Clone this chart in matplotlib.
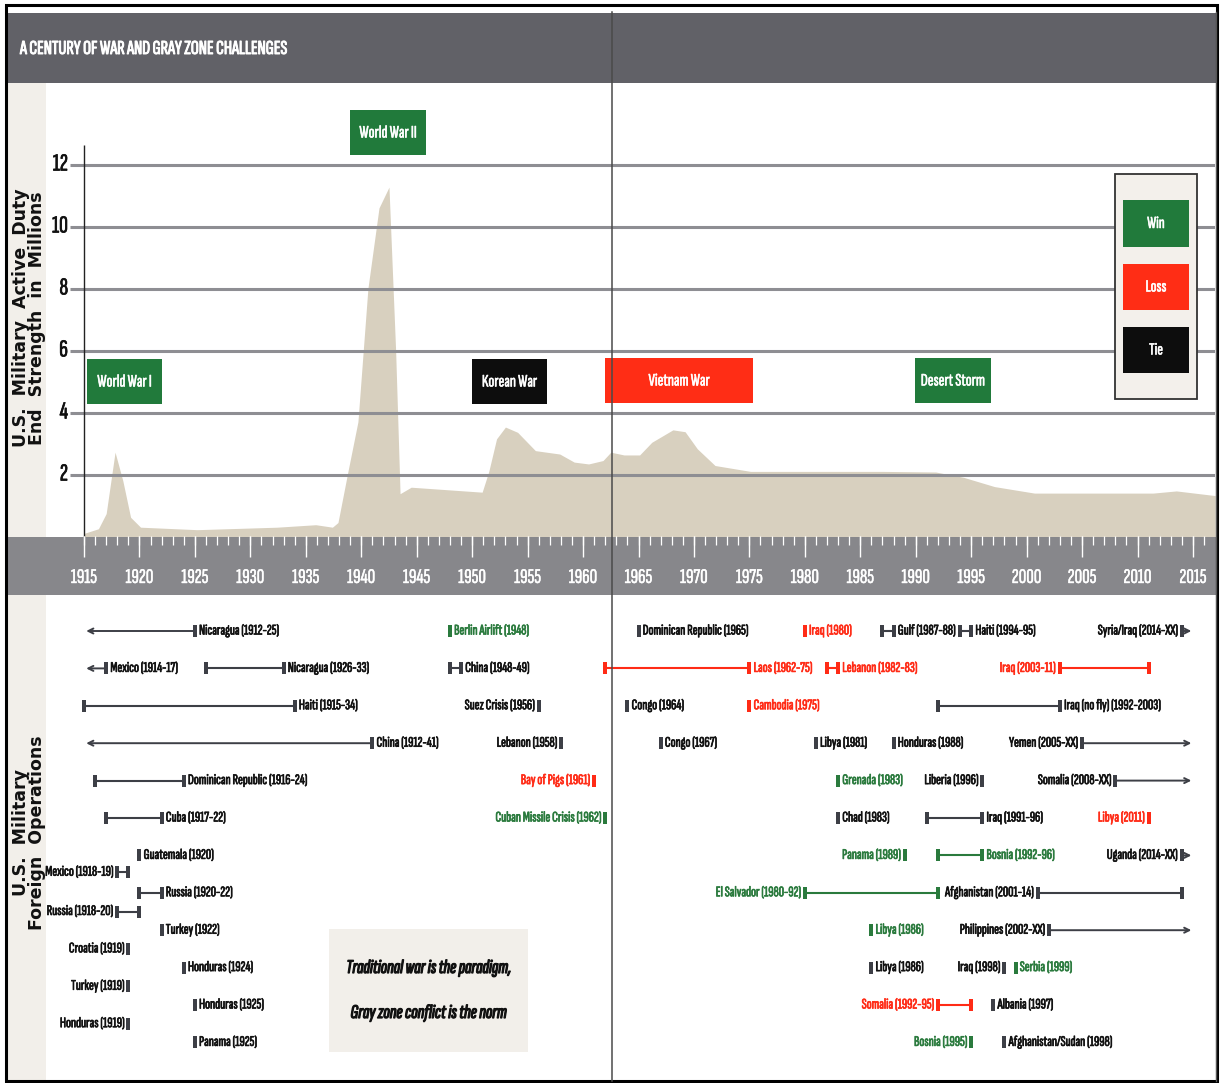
import matplotlib
matplotlib.use("Agg")
import matplotlib.pyplot as plt
from matplotlib.patches import Rectangle
from matplotlib import font_manager as fm
from matplotlib import patheffects as pe

# ---------------------------------------------------------------- data
strength_years = [1915.0, 1916.3, 1917.0, 1917.8, 1918.5, 1919.2, 1920.1, 1925.2, 1928.8,
                  1932.4, 1935.9, 1937.4, 1937.9, 1938.8, 1939.7, 1940.6, 1941.6, 1942.5,
                  1943.1, 1943.5, 1944.5, 1950.9, 1951.5, 1952.2, 1953.0, 1954.1, 1955.7,
                  1956.7, 1957.9, 1959.2, 1960.5, 1961.8, 1962.5, 1963.7, 1965.1, 1966.2,
                  1968.1, 1969.2, 1970.3, 1971.9, 1975.1, 1987.0, 1991.8, 1994.3, 1997.1,
                  2000.7, 2011.4, 2013.5, 2017.0]
strength_millions = [0.10, 0.25, 0.74, 2.72, 1.80, 0.62, 0.30, 0.22, 0.26,
                     0.30, 0.38, 0.30, 0.45, 2.10, 3.70, 8.00, 10.60, 11.27,
                     6.00, 1.38, 1.59, 1.43, 2.10, 3.15, 3.53, 3.36, 2.77,
                     2.72, 2.66, 2.40, 2.34, 2.45, 2.72, 2.63, 2.63, 3.04,
                     3.44, 3.38, 2.83, 2.29, 2.10, 2.10, 2.08, 1.91, 1.61,
                     1.40, 1.40, 1.47, 1.32]

y_tick_values = [2, 4, 6, 8, 10, 12]
x_tick_years = [1915, 1920, 1925, 1930, 1935, 1940, 1945, 1950, 1955, 1960, 1965,
                1970, 1975, 1980, 1985, 1990, 1995, 2000, 2005, 2010, 2015]

war_names = ["World War I", "World War II", "Korean War", "Vietnam War", "Desert Storm"]
war_outcomes = ["win", "win", "tie", "loss", "win"]

legend_names = ["Win", "Loss", "Tie"]
legend_outcomes = ["win", "loss", "tie"]

# foreign operations: label, start year, end year, row, outcome, kind, label side
op_labels = [
    "Nicaragua (1912-25)", "Mexico (1914-17)", "Nicaragua (1926-33)", "Haiti (1915-34)",
    "China (1912-41)", "Dominican Republic (1916-24)", "Cuba (1917-22)", "Guatemala (1920)",
    "Mexico (1918-19)", "Russia (1920-22)", "Russia (1918-20)", "Turkey (1922)",
    "Croatia (1919)", "Honduras (1924)", "Turkey (1919)", "Honduras (1925)",
    "Honduras (1919)", "Panama (1925)", "Berlin Airlift (1948)", "China (1948-49)",
    "Suez Crisis (1956)", "Lebanon (1958)", "Bay of Pigs (1961)", "Cuban Missile Crisis (1962)",
    "Dominican Republic (1965)", "Iraq (1980)", "Gulf (1987-88)", "Haiti (1994-95)",
    "Syria/Iraq (2014-XX)", "Laos (1962-75)", "Lebanon (1982-83)", "Iraq (2003-11)",
    "Congo (1964)", "Cambodia (1975)", "Iraq (no fly) (1992-2003)", "Congo (1967)",
    "Libya (1981)", "Honduras (1988)", "Yemen (2005-XX)", "Grenada (1983)",
    "Liberia (1996)", "Somalia (2008-XX)", "Chad (1983)", "Iraq (1991-96)",
    "Libya (2011)", "Panama (1989)", "Bosnia (1992-96)", "Uganda (2014-XX)",
    "El Salvador (1980-92)", "Afghanistan (2001-14)", "Libya (1986)", "Philippines (2002-XX)",
    "Libya (1986)", "Iraq (1998)", "Serbia (1999)", "Somalia (1992-95)",
    "Albania (1997)", "Bosnia (1995)", "Afghanistan/Sudan (1998)",
]
op_start = [1912, 1914, 1926, 1915, 1912, 1916, 1917, 1920, 1918, 1920, 1918, 1922,
            1919, 1924, 1919, 1925, 1919, 1925, 1948, 1948, 1956, 1958, 1961, 1962,
            1965, 1980, 1987, 1994, 2014, 1962, 1982, 2003, 1964, 1975, 1992, 1967,
            1981, 1988, 2005, 1983, 1996, 2008, 1983, 1991, 2011, 1989, 1992, 2014,
            1980, 2001, 1986, 2002, 1986, 1998, 1999, 1992, 1997, 1995, 1998]
op_end = [1925, 1917, 1933, 1934, 1941, 1924, 1922, 1920, 1919, 1922, 1920, 1922,
          1919, 1924, 1919, 1925, 1919, 1925, 1948, 1949, 1956, 1958, 1961, 1962,
          1965, 1980, 1988, 1995, 2014, 1975, 1983, 2011, 1964, 1975, 2003, 1967,
          1981, 1988, 2005, 1983, 1996, 2008, 1983, 1996, 2011, 1989, 1996, 2014,
          1992, 2014, 1986, 2002, 1986, 1998, 1999, 1995, 1997, 1995, 1998]
op_row = [0, 1, 1, 2, 3, 4, 5, 6, 6.45, 7, 7.5, 8,
          8.5, 9, 9.5, 10, 10.5, 11, 0, 1, 2, 3, 4, 5,
          0, 0, 0, 0, 0, 1, 1, 1, 2, 2, 2, 3,
          3, 3, 3, 4, 4, 4, 5, 5, 5, 6, 6, 6,
          7, 7, 8, 8, 9, 9, 9, 10, 10, 11, 11]
op_outcome = ["tie"] * 18 + ["win", "tie", "tie", "tie", "loss", "win",
              "tie", "loss", "tie", "tie", "tie", "loss", "loss", "loss",
              "tie", "loss", "tie", "tie", "tie", "tie", "tie", "win",
              "tie", "tie", "tie", "tie", "loss", "win", "win", "tie",
              "win", "tie", "win", "tie", "tie", "tie", "win", "loss",
              "tie", "win", "tie"]
# kind: "open_left" = began before 1915, "open_right" = ongoing (XX)
op_kind = ["open_left", "open_left", "range", "range", "open_left", "range", "range", "single",
           "range", "range", "range", "single", "single", "single", "single", "single",
           "single", "single", "single", "range", "single", "single", "single", "single",
           "single", "single", "range", "range", "open_right", "range", "range", "range",
           "single", "single", "range", "single", "single", "single", "open_right", "single",
           "single", "open_right", "single", "range", "single", "single", "range", "open_right",
           "range", "range", "single", "open_right", "single", "single", "single", "range",
           "single", "single", "single"]
op_side = ["r", "r", "r", "r", "r", "r", "r", "r", "l", "r", "l", "r",
           "l", "r", "l", "r", "l", "r", "r", "r", "l", "l", "l", "l",
           "r", "r", "r", "r", "l", "r", "r", "l", "r", "r", "r", "r",
           "r", "r", "l", "r", "l", "l", "r", "r", "l", "l", "r", "l",
           "l", "l", "r", "l", "r", "l", "r", "l", "r", "l", "r"]

note_lines = ["Traditional war is the paradigm,", "Gray zone conflict is the norm"]
title_text = "A CENTURY OF WAR AND GRAY ZONE CHALLENGES"
upper_label = "U.S.  Military  Active  Duty\nEnd  Strength  in  Millions"
lower_label = "U.S.  Military\nForeign  Operations"

# ---------------------------------------------------------------- style / layout
W, H = 1220, 1083
PPY = 11.09                       # pixels per year
TEXT_COL = {"win": "#2a7a3d", "loss": "#ff2b16", "tie": "#111111"}
LINE_COL = {"win": "#2a7a3d", "loss": "#ff2b16", "tie": "#3d3f46"}
BOX_COL = {"win": "#217a3b", "loss": "#ff2d15", "tie": "#0d0d0d"}
AREA_COL = "#d8d0bf"
GRID_COL = "#8e8e93"
BEIGE = "#f2efea"
HEADER_COL = "#616167"
BAND_COL = "#87878b"
ARROW_LEFT = 1915.2
ARROW_RIGHT = 2014.85

_names = {f.name for f in fm.fontManager.ttflist}


def pick(cands):
    for c in cands:
        if c in _names:
            return c
    return "DejaVu Sans"


COND = pick(["Sofia Sans Extra Condensed", "Pathway Gothic One", "Encode Sans Compressed",
             "Oswald", "Roboto Condensed", "Archivo Narrow", "PT Sans Narrow",
             "Liberation Sans Narrow", "Liberation Sans"])
COND_IT = pick(["Sofia Sans Extra Condensed", "Sofia Sans Condensed", "Roboto Condensed",
                "Archivo Narrow", "PT Sans Narrow", "Liberation Sans Narrow", "Liberation Sans"])
WIDE = "DejaVu Sans"


def X(px):
    return 1915 + (px - 84) / PPY


def YU(py):
    return (536.5 - py) / 31.0


def ROW(py):
    return (py - 631) / 37.4


fig = plt.figure(figsize=(W / 100, H / 100), dpi=100)
fig.patch.set_facecolor("white")
renderer = fig.canvas.get_renderer()


def fit(s, target_px, max_size, **kw):
    t = fig.text(0, 0, s, fontsize=10, **kw)
    w = t.get_window_extent(renderer=renderer).width
    t.remove()
    return min(max_size, 10.0 * target_px / max(w, 1e-6))


def bolden(color, w=0.5):
    return [pe.withStroke(linewidth=w, foreground=color)]


FS_OP = fit("Dominican Republic (1916-24)", 119, 14, family=COND, fontweight="medium")
FS_TITLE = fit(title_text, 268, 20, family=COND, fontweight="bold")
FS_YEAR = fit("1915", 26, 16, family=COND, fontweight="medium")
FS_YTICK = fit("12", 15, 19, family=COND, fontweight="medium")
FS_WAR = fit("Desert Storm", 64, 16, family=COND, fontweight="medium")
FS_LEG = fit("Loss", 21, 16, family=COND, fontweight="medium")
FS_NOTE = fit(note_lines[0], 165, 18, family=COND_IT, fontweight="bold", style="italic")

# background (pixel space)
bg = fig.add_axes([0, 0, 1, 1], zorder=0)
bg.set_xlim(0, W)
bg.set_ylim(H, 0)
bg.set_axis_off()
bg.add_patch(Rectangle((8, 13), 1208, 70, color=HEADER_COL, lw=0))
bg.add_patch(Rectangle((8, 83), 38, 1000, color=BEIGE, lw=0))
bg.add_patch(Rectangle((8, 536.5), 1208, 58.5, color=BAND_COL, lw=0))
bg.text(20, 49, title_text, color="white", fontsize=FS_TITLE, fontweight="bold",
        ha="left", va="center", family=COND, path_effects=bolden("white", 0.7))
bg.text(29, 318, upper_label, rotation=90, ha="center", va="center", fontsize=12.5,
        fontweight="bold", family=WIDE, linespacing=0.92, multialignment="center",
        color="#111111")
bg.text(29, 833, lower_label, rotation=90, ha="center", va="center", fontsize=12.5,
        fontweight="bold", family=WIDE, linespacing=0.92, multialignment="center",
        color="#111111")

x0, x1 = X(46), X(1215)

# ---------------------------------------------------------------- upper chart
ax = fig.add_axes([46 / W, 1 - 536.5 / H, (1215 - 46) / W, (536.5 - 83) / H], zorder=1)
ax.set_xlim(x0, x1)
ax.set_ylim(0, YU(83))
ax.set_axis_off()
ax.patch.set_alpha(0)
ax.fill_between(strength_years, strength_millions, 0, color=AREA_COL, lw=0, zorder=1)
ax.hlines(y_tick_values, X(70), x1, color=GRID_COL, lw=2.2, zorder=2)
ax.vlines(1915, 0, YU(145), color="#222222", lw=1.0, zorder=3)
for v in y_tick_values:
    ax.text(X(68), v, str(v), ha="right", va="center", fontsize=FS_YTICK,
            color="#111111", family=COND, fontweight="medium",
            path_effects=bolden("#111111", 0.5))

war_box_px = [(87, 162, 359, 404), (350, 426, 110, 155), (472, 547, 359, 404),
              (605, 753, 358, 403), (915, 990.5, 358, 403)]
for name, outc, (a, b, t, u) in zip(war_names, war_outcomes, war_box_px):
    ax.add_patch(Rectangle((X(a), YU(u)), X(b) - X(a), YU(t) - YU(u),
                           facecolor=BOX_COL[outc], edgecolor="none", zorder=4))
    ax.text((X(a) + X(b)) / 2, (YU(t) + YU(u)) / 2, name, color="white", fontsize=FS_WAR,
            ha="center", va="center", zorder=5, family=COND, fontweight="medium",
            path_effects=bolden("white", 0.4))

# legend
ax.add_patch(Rectangle((X(1115), YU(399)), X(1197) - X(1115), YU(174) - YU(399),
                       facecolor="#f3f0eb", edgecolor="#333333", lw=1.3, zorder=4))
leg_px = [(200, 247), (264, 310), (327, 373)]
for name, outc, (t, u) in zip(legend_names, legend_outcomes, leg_px):
    ax.add_patch(Rectangle((X(1123), YU(u)), X(1189) - X(1123), YU(t) - YU(u),
                           facecolor=BOX_COL[outc], edgecolor="none", zorder=5))
    ax.text((X(1123) + X(1189)) / 2, (YU(t) + YU(u)) / 2, name, color="white",
            fontsize=FS_LEG, ha="center", va="center", zorder=6, family=COND,
            fontweight="medium", path_effects=bolden("white", 0.4))

# ---------------------------------------------------------------- year band
bx = fig.add_axes([46 / W, 1 - 595 / H, (1215 - 46) / W, 58.5 / H], zorder=1)
bx.set_xlim(x0, x1)
bx.set_ylim(58.5, 0)
bx.set_axis_off()
bx.patch.set_alpha(0)
minor_years = list(range(1915, 2017))
bx.vlines(minor_years, 0, 9, color="white", lw=0.9)
bx.vlines(x_tick_years, 0, 21, color="white", lw=1.0)
for yr in x_tick_years:
    bx.text(yr, 41.5, str(yr), color="white", ha="center", va="center",
            fontsize=FS_YEAR, family=COND, fontweight="medium",
            path_effects=bolden("white", 0.3))

# ---------------------------------------------------------------- operations
ox = fig.add_axes([46 / W, 1 - 1080 / H, (1215 - 46) / W, (1080 - 595) / H], zorder=1)
ox.set_xlim(x0, x1)
ox.set_ylim(ROW(1080), ROW(595))
ox.set_axis_off()
ox.patch.set_alpha(0)

bar_marker = [(-0.36, -1), (0.36, -1), (0.36, 1), (-0.36, 1)]
for lab, s, e, r, outc, kind, side in zip(op_labels, op_start, op_end, op_row,
                                           op_outcome, op_kind, op_side):
    tc, lc = TEXT_COL[outc], LINE_COL[outc]
    arrow = dict(arrowstyle="->", color=lc, lw=1.4, shrinkA=0, shrinkB=0, mutation_scale=9)
    if kind == "open_left":
        ox.annotate("", xy=(ARROW_LEFT, r), xytext=(e, r), arrowprops=arrow)
        marks = [e]
    elif kind == "open_right":
        ox.annotate("", xy=(ARROW_RIGHT, r), xytext=(s, r), arrowprops=arrow)
        marks = [s]
    elif kind == "range":
        ox.plot([s, e], [r, r], color=lc, lw=1.5, solid_capstyle="butt")
        marks = [s, e]
    else:
        marks = [s]
    ox.plot(marks, [r] * len(marks), ls="none", marker=bar_marker, ms=8,
            color=lc, mec=lc, mew=0)
    if side == "r":
        ox.annotate(lab, xy=(max(marks), r), xytext=(3, 0), textcoords="offset points",
                    ha="left", va="center", fontsize=FS_OP, color=tc, family=COND,
                    fontweight="medium", path_effects=bolden(tc, 0.5))
    else:
        ox.annotate(lab, xy=(min(marks), r), xytext=(-3, 0), textcoords="offset points",
                    ha="right", va="center", fontsize=FS_OP, color=tc, family=COND,
                    fontweight="medium", path_effects=bolden(tc, 0.5))

ox.add_patch(Rectangle((X(329), ROW(1052)), X(528) - X(329), ROW(929) - ROW(1052),
                       facecolor=BEIGE, edgecolor="none", zorder=0))
for line, py in zip(note_lines, [968, 1013]):
    ox.text((X(329) + X(528)) / 2, ROW(py), line, ha="center", va="center",
            fontsize=FS_NOTE, fontweight="bold", style="italic", color="#111111",
            family=COND_IT, path_effects=bolden("#111111", 0.9))

# ---------------------------------------------------------------- frame overlay
ov = fig.add_axes([0, 0, 1, 1], zorder=10)
ov.set_xlim(0, W)
ov.set_ylim(H, 0)
ov.set_axis_off()
ov.patch.set_alpha(0)
ov.plot([612, 612], [12, 1081], color="#4a4a4a", lw=1.1)
ov.plot([1215.5, 1215.5], [12, 1081], color="#555555", lw=1.0)
ov.add_patch(Rectangle((6, 5), 1211, 1076, fill=False, edgecolor="black", lw=2.2))

fig.savefig("out.png", dpi=100)
